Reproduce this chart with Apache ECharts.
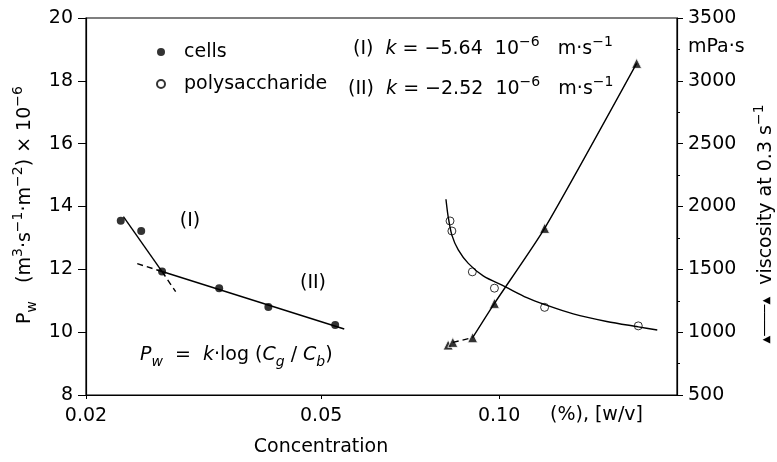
<!DOCTYPE html>
<html><head><meta charset="utf-8">
<script src="https://cdn.jsdelivr.net/npm/echarts@6/dist/echarts.min.js"></script>
<style>html,body{margin:0;padding:0;background:#fff}#c{width:777px;height:462px}</style>
</head><body><div id="c"></div>
<script>
// ---- data ----
const xTickValues = [0.02, 0.05, 0.10];
const cellsX = [0.0229, 0.0248, 0.0269, 0.0336, 0.0407, 0.0528];
const cellsPw = [13.55, 13.22, 11.93, 11.40, 10.80, 10.23];
const polyX = [0.0826, 0.0832, 0.0901, 0.0982, 0.1194, 0.172];
const polyPw = [13.54, 13.22, 11.92, 11.40, 10.79, 10.20];
const viscX = [0.0820, 0.0835, 0.0902, 0.0982, 0.1194, 0.1709];
const viscVal = [898, 919, 956, 1229, 1826, 3139];
const fitIX = [0.02314, 0.0269];
const fitIY = [13.68, 11.93];
const fitIDashX = [0.0269, 0.02836];
const fitIDashY = [11.93, 11.29];
const fitIIDashX = [0.02442, 0.0269];
const fitIIDashY = [12.18, 11.93];
const fitIIX = [0.0269, 0.0547];
const fitIIY = [11.93, 10.10];
const polyCurveX = [0.0813, 0.0820, 0.0832, 0.0853, 0.0887, 0.0940, 0.1023, 0.1114, 0.1194, 0.1335, 0.1521, 0.1720, 0.1852];
const polyCurveY = [14.23, 13.68, 13.09, 12.62, 12.19, 11.79, 11.45, 11.10, 10.88, 10.58, 10.34, 10.17, 10.07];
const viscDashIdx = [1, 2];
const viscSolidIdx = [2, 3, 4, 5];

const F = 'DejaVu Sans';
const FS = 19;
const pairs = (xs, ys) => xs.map((x, i) => [x, ys[i]]);
const rich = {
  n: {fontSize: FS, fontFamily: F, color: '#000', lineHeight: 28},
  i: {fontSize: FS, fontFamily: F, fontStyle: 'italic', color: '#000', lineHeight: 28},
  sup: {fontSize: 14, fontFamily: F, color: '#000', verticalAlign: 'top', lineHeight: 15},
  sub: {fontSize: 14, fontFamily: F, color: '#000', verticalAlign: 'bottom', lineHeight: 15},
  isub: {fontSize: 14, fontFamily: F, fontStyle: 'italic', color: '#000', verticalAlign: 'bottom', lineHeight: 15},
  tri: {fontSize: 10, fontFamily: F, color: '#000', lineHeight: 28},
  ln: {fontSize: 13, fontFamily: F, color: '#000', lineHeight: 28}
};
function txt(x, y, text, opts) {
  return Object.assign({type: 'text', x: x, y: y, silent: true,
    style: Object.assign({text: text, rich: rich, font: FS + 'px ' + F, fill: '#000', align: 'left', verticalAlign: 'middle'}, (opts && opts.style) || {})},
    opts && opts.rotation !== undefined ? {rotation: opts.rotation} : {});
}
const lineS = {color: '#000', width: 1.4};
const labelS = {fontFamily: F, fontSize: FS, color: '#000'};

const chart = echarts.init(document.getElementById('c'), null, {renderer: 'canvas'});
chart.setOption({
  animation: false,
  backgroundColor: '#fff',
  grid: {left: 86, right: 100, top: 18, bottom: 67, show: true, borderColor: '#000', borderWidth: 1.2, backgroundColor: 'transparent', outerBoundsMode: 'none'},
  legend: {
    left: 151, top: 36, orient: 'vertical', itemWidth: 8, itemHeight: 8, itemGap: 10, selectedMode: false,
    data: ['cells', 'polysaccharide'],
    textStyle: {fontFamily: F, fontSize: FS, color: '#000', lineHeight: 22, padding: [0, 0, 0, 14]}
  },
  xAxis: {
    type: 'log', logBase: 10, min: 0.02, max: 0.2,
    axisLine: {lineStyle: {color: '#000', width: 1.2}},
    axisTick: {show: true, length: 4, customValues: xTickValues, lineStyle: {color: '#000'}},
    axisLabel: Object.assign({customValues: xTickValues, margin: 12, formatter: v => Number(v).toFixed(2)}, labelS),
    splitLine: {show: false}, minorTick: {show: false}
  },
  yAxis: [{
    type: 'value', min: 8, max: 20, interval: 2, position: 'left',
    axisLine: {show: true, lineStyle: {color: '#000', width: 1.2}},
    axisTick: {show: true, length: 8, lineStyle: {color: '#000'}},
    axisLabel: Object.assign({margin: 13, formatter: v => String(v)}, labelS),
    splitLine: {show: false}
  }, {
    type: 'value', min: 500, max: 3500, interval: 500, position: 'right',
    axisLine: {show: true, lineStyle: {color: '#000', width: 1.2}},
    axisTick: {show: true, length: 6, lineStyle: {color: '#000'}},
    minorTick: {show: true, splitNumber: 2, length: 3, lineStyle: {color: '#000'}},
    axisLabel: Object.assign({margin: 11, formatter: v => String(v)}, labelS),
    splitLine: {show: false}
  }],
  series: [
    {type: 'line', data: pairs(fitIX, fitIY), showSymbol: false, lineStyle: lineS, silent: true},
    {type: 'line', data: pairs(fitIDashX, fitIDashY), showSymbol: false, lineStyle: Object.assign({type: [6, 4]}, lineS), silent: true},
    {type: 'line', data: pairs(fitIIDashX, fitIIDashY), showSymbol: false, lineStyle: Object.assign({type: [6, 4]}, lineS), silent: true},
    {type: 'line', data: pairs(fitIIX, fitIIY), showSymbol: false, lineStyle: lineS, silent: true},
    {type: 'line', data: pairs(polyCurveX, polyCurveY), showSymbol: false, smooth: 0.3, lineStyle: lineS, silent: true},
    {type: 'line', yAxisIndex: 1, data: viscDashIdx.map(i => [viscX[i], viscVal[i]]), showSymbol: false, lineStyle: Object.assign({type: [6, 4]}, lineS), silent: true},
    {type: 'line', yAxisIndex: 1, data: viscSolidIdx.map(i => [viscX[i], viscVal[i]]), showSymbol: false, smooth: 0.2, lineStyle: lineS, silent: true},
    {name: 'cells', type: 'scatter', data: pairs(cellsX, cellsPw), symbol: 'circle', symbolSize: 8, itemStyle: {color: '#000'}},
    {name: 'polysaccharide', type: 'scatter', data: pairs(polyX, polyPw), symbol: 'circle', symbolSize: 8, itemStyle: {color: '#fff', borderColor: '#000', borderWidth: 1}},
    {name: 'viscosity', type: 'scatter', yAxisIndex: 1, data: pairs(viscX, viscVal), symbol: 'triangle', symbolSize: 10, itemStyle: {color: '#000', borderColor: '#fff', borderWidth: 1}}
  ],
  graphic: [
    txt(25, 205, '{n|P}{sub|w}{n|   (m}{sup|3}{n|·s}{sup|−1}{n|·m}{sup|−2}{n|) × 10}{sup|−6}', {rotation: Math.PI / 2, style: {align: 'center'}}),
    txt(766, 224, '{tri|▲}{ln|────}{tri|▲}{n|  viscosity at 0.3 s}{sup|−1}', {rotation: Math.PI / 2, style: {align: 'center'}}),
    txt(688, 47, '{n|mPa·s}'),
    txt(321, 447, '{n|Concentration}', {style: {align: 'center'}}),
    txt(550, 415, '{n|(%), [w/v]}'),
    txt(190, 221, '{n|(I)}', {style: {align: 'center'}}),
    txt(313, 283, '{n|(II)}', {style: {align: 'center'}}),
    txt(353, 49, '{n|(I)  }{i|k}{n| = −5.64  10}{sup|−6}{n|   m·s}{sup|−1}'),
    txt(348, 89, '{n|(II)  }{i|k}{n| = −2.52  10}{sup|−6}{n|   m·s}{sup|−1}'),
    txt(140, 355, '{i|P}{isub|w}{n|  =  }{i|k}{n|·log (}{i|C}{isub|g}{n| / }{i|C}{isub|b}{n|)}')
  ]
});
</script></body></html>
